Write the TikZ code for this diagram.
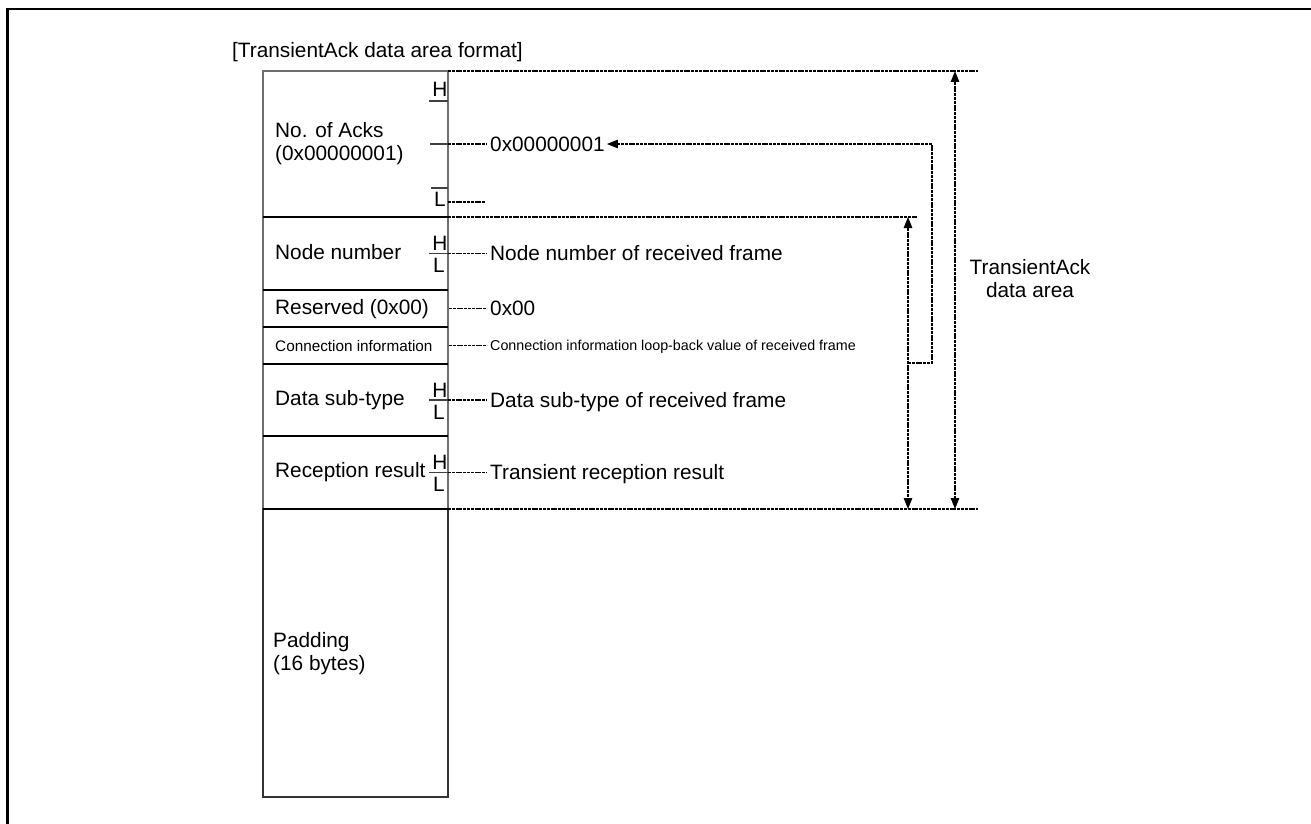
\documentclass[tikz,border=0pt]{standalone}
\usepackage{fontspec}
\setmainfont{Liberation Sans}
\usetikzlibrary{arrows.meta}
\definecolor{boxgray}{HTML}{6E6E6E}
\newcommand\hlmark[1]{%
  \draw[hl] ([xshift=-19pt]#1.east) -- (#1.east);
  \node[big, anchor=base] (#1H) at ([xshift=-8pt,yshift=3pt]#1.east) {H};
  \node[big, anchor=base] (#1L) at ([xshift=-9pt,yshift=-19pt]#1.east) {L};}
\begin{document}
\begin{tikzpicture}[x=1pt,y=-1pt,
  big/.style={font=\fontsize{20.8}{23}\selectfont, inner sep=0pt},
  bigl/.style={big, text height=14.8pt, text depth=0pt},
  smallin/.style={font=\fontsize{15.3}{17}\selectfont, inner sep=0pt, text height=11pt, text depth=0pt},
  smallout/.style={font=\fontsize{14.3}{16}\selectfont, inner sep=0pt, text height=10.2pt, text depth=0pt},
  field/.style={draw=boxgray, line width=1.3pt, outer sep=0pt, minimum width=185pt, anchor=north west},
  padbox/.style={field, draw=black!80},
  sep/.style={draw=black, line width=1.1pt},
  hl/.style={draw=black!75, line width=1.2pt},
  leader/.style={draw=black, line width=1.1pt, dash pattern=on 3pt off 0.8pt},
  tip/.style={-{Triangle[length=11pt,width=8.5pt]}},
  dim/.style={leader, {Triangle[length=11pt,width=8.5pt]}-{Triangle[length=11pt,width=8.5pt]}},
]
\useasboundingbox (0,0) rectangle (1311,824);

% page frame
\draw[line width=2.2pt] (7.5,824) -- (7.5,9) -- (1311,9);

% title
\node[big, anchor=base west] (title) at (232,58) {[TransientAck data area format]};

% fields of the data area
\node[field, minimum height=146pt] (acks) at (263,71) {};
\node[field, minimum height=73pt] (nodenum) at (263,217) {};
\node[field, minimum height=37pt] (resv) at (263,290) {};
\node[field, minimum height=37pt] (conn) at (263,327) {};
\node[field, minimum height=72pt] (subtype) at (263,364) {};
\node[field, minimum height=73pt] (result) at (263,436) {};
\node[padbox, minimum height=288pt] (padding) at (263,509) {};

% field separators
\draw[sep] (acks.south west) -- (acks.south east);
\draw[sep] (nodenum.south west) -- (nodenum.south east);
\draw[sep] (resv.south west) -- (resv.south east);
\draw[sep] (conn.south west) -- (conn.south east);
\draw[sep] (subtype.south west) -- (subtype.south east);
\draw[line width=2pt] (result.south west) -- (result.south east);

% field names
\node[big, anchor=west, align=left] (acksT) at (275,144) {No. of Acks\\(0x00000001)};
\node[bigl, anchor=west] (nodenumT) at ([xshift=12pt,yshift=1pt]nodenum.west) {Node number};
\node[bigl, anchor=west] (resvT) at ([xshift=12pt,yshift=1pt]resv.west) {Reserved (0x00)};
\node[smallin, anchor=west] (connT) at ([xshift=12pt]conn.west) {Connection information};
\node[bigl, anchor=west] (subtypeT) at ([xshift=12pt,yshift=2pt]subtype.west) {Data sub-type};
\node[bigl, anchor=west] (resultT) at ([xshift=12pt,yshift=2pt]result.west) {Reception result};
\node[big, anchor=west, align=left] (padT) at (273,654) {Padding\\(16 bytes)};

% H/L byte order marks
\coordinate (acksHa) at (429,101);
\coordinate (acksHb) at (448,101);
\coordinate (acksLa) at (431,188);
\coordinate (acksLb) at (448,188);
\coordinate (acksM) at (430,144);
\draw[hl] (acksHa) -- (acksHb);
\draw[hl] (acksLa) -- (acksLb);
\draw[hl] (acksM) -- (acks.east);
\node[big, anchor=base] (acksH) at (440,97) {H};
\node[big, anchor=base] (acksL) at (440,206) {L};
\hlmark{nodenum}
\hlmark{subtype}
\hlmark{result}

% values and leaders
\node[bigl, anchor=west] (acksV) at ([xshift=42pt]acks.east) {0x00000001};
\draw[leader] (acks.east) -- ([xshift=-3pt]acksV.west);
\coordinate (acksLs) at (448,202);
\coordinate (acksLe) at (485,202);
\draw[leader] (acksLs) -- (acksLe);
\node[bigl, anchor=west] (nodenumV) at ([xshift=42pt]nodenum.east) {Node number of received frame};
\draw[leader] (nodenum.east) -- ([xshift=-3pt]nodenumV.west);
\node[bigl, anchor=west] (resvV) at ([xshift=42pt]resv.east) {0x00};
\draw[leader] ([xshift=1pt]resv.east) -- ([xshift=-3pt]resvV.west);
\node[smallout, anchor=west] (connV) at ([xshift=42pt]conn.east) {Connection information loop-back value of received frame};
\draw[leader] ([xshift=1pt]conn.east) -- ([xshift=-3pt]connV.west);
\node[bigl, anchor=west] (subtypeV) at ([xshift=42pt]subtype.east) {Data sub-type of received frame};
\draw[leader] (subtype.east) -- ([xshift=-3pt]subtypeV.west);
\node[bigl, anchor=west] (resultV) at ([xshift=42pt]result.east) {Transient reception result};
\draw[leader] (result.east) -- ([xshift=-3pt]resultV.west);

% extension lines
\coordinate (topR) at (978,71);
\coordinate (midR) at (917,217);
\coordinate (botR) at (978,509);
\draw[leader] (acks.north east) -- (topR);
\draw[leader] (acks.south east) -- (midR);
\draw[leader] (result.south east) -- (botR);

% dimension arrows
\coordinate (outTop) at (955,71);
\coordinate (outBot) at (955,509);
\draw[dim] (outTop) -- (outBot);
\coordinate (inTop) at (908,217);
\coordinate (inBot) at (908,509);
\draw[dim] (inTop) -- (inBot);

% count of acknowledged frames
\coordinate (bk1) at (908,363);
\coordinate (bk2) at (932,363);
\coordinate (bk3) at (932,144);
\draw[leader, tip] (bk1) -- (bk2) -- (bk3) -- ([xshift=2pt]acksV.east);

% area label
\node[big, align=center] (areaT) at (1030,279) {TransientAck\\data area};
\end{tikzpicture}
\end{document}
